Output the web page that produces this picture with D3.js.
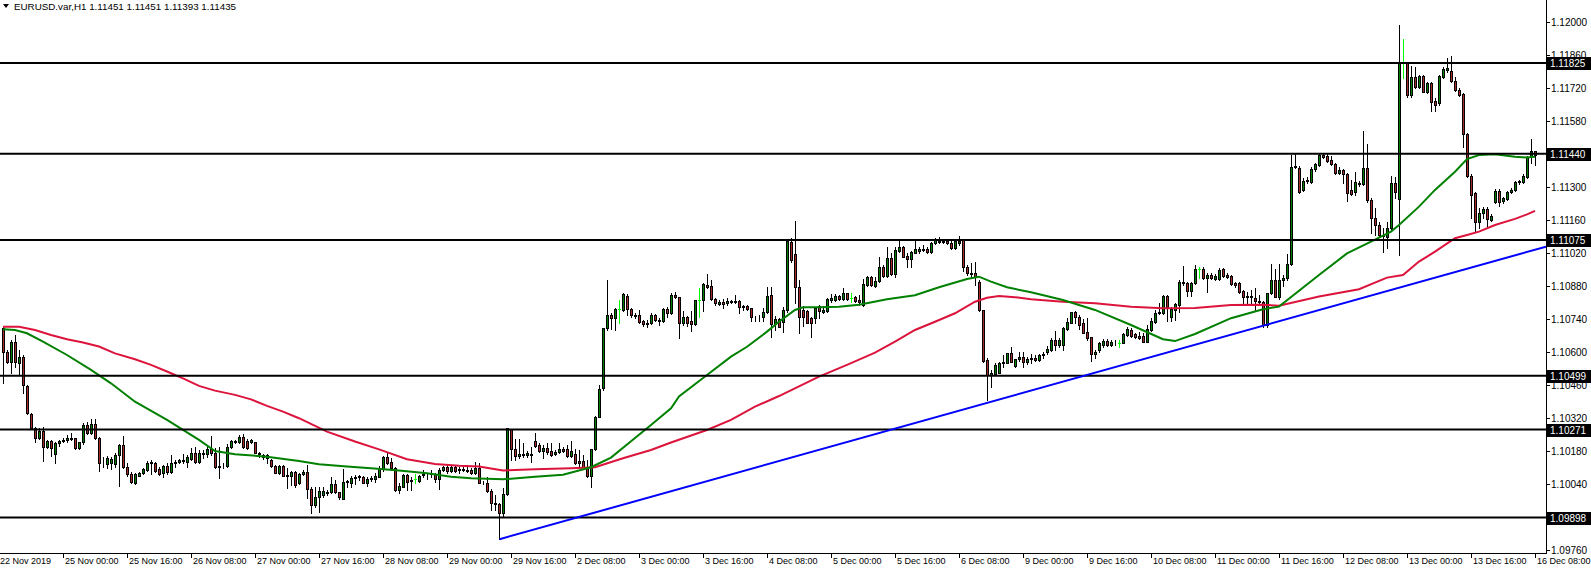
<!DOCTYPE html>
<html><head><meta charset="utf-8">
<script src="https://cdn.jsdelivr.net/npm/d3@7/dist/d3.min.js"></script>
<style>html,body{margin:0;padding:0;background:#fff;}svg{display:block;}</style>
</head><body>
<svg id="chart" width="1591" height="570"></svg>
<script>
// ---------------- DATA ----------------
const titleText = "EURUSD.var,H1  1.11451 1.11451 1.11393 1.11435";

// H1 bars, [open, high, low, close]; bar 0 = 22 Nov 2019 09:00 ... bar 383 = 16 Dec 08:00
const bars = [
[1.10700,1.10704,1.10467,1.10601],[1.10601,1.10608,1.10555,1.10559],[1.10559,1.10651,1.10510,1.10644],[1.10644,1.10672,1.10538,1.10559],
[1.10552,1.10608,1.10507,1.10577],[1.10577,1.10587,1.10425,1.10460],[1.10457,1.10460,1.10337,1.10340],[1.10337,1.10340,1.10272,1.10276],
[1.10276,1.10283,1.10216,1.10234],[1.10234,1.10276,1.10230,1.10266],[1.10265,1.10283,1.10139,1.10196],[1.10196,1.10227,1.10192,1.10224],
[1.10224,1.10227,1.10159,1.10192],[1.10166,1.10216,1.10128,1.10213],[1.10213,1.10227,1.10202,1.10221],[1.10221,1.10234,1.10220,1.10227],
[1.10227,1.10248,1.10220,1.10233],[1.10231,1.10255,1.10227,1.10237],[1.10234,1.10237,1.10187,1.10192],[1.10192,1.10220,1.10187,1.10216],
[1.10216,1.10298,1.10210,1.10289],[1.10289,1.10305,1.10252,1.10255],[1.10255,1.10315,1.10252,1.10293],[1.10293,1.10315,1.10230,1.10234],
[1.10234,1.10241,1.10097,1.10131],[1.10131,1.10156,1.10114,1.10128],[1.10125,1.10159,1.10107,1.10149],[1.10128,1.10156,1.10103,1.10148],
[1.10125,1.10170,1.10114,1.10162],[1.10163,1.10210,1.10032,1.10204],[1.10204,1.10244,1.10107,1.10111],[1.10111,1.10128,1.10072,1.10083],
[1.10083,1.10093,1.10046,1.10050],[1.10046,1.10086,1.10040,1.10083],[1.10074,1.10093,1.10072,1.10088],[1.10086,1.10107,1.10083,1.10103],
[1.10100,1.10136,1.10097,1.10131],[1.10128,1.10142,1.10083,1.10134],[1.10131,1.10134,1.10093,1.10097],[1.10103,1.10114,1.10079,1.10083],
[1.10086,1.10121,1.10069,1.10117],[1.10117,1.10128,1.10083,1.10093],[1.10093,1.10162,1.10088,1.10131],[1.10128,1.10142,1.10114,1.10134],
[1.10135,1.10148,1.10131,1.10142],[1.10142,1.10168,1.10131,1.10136],[1.10135,1.10163,1.10114,1.10156],[1.10145,1.10192,1.10142,1.10173],
[1.10173,1.10199,1.10131,1.10135],[1.10135,1.10185,1.10131,1.10170],[1.10170,1.10185,1.10149,1.10168],[1.10168,1.10199,1.10156,1.10187],
[1.10187,1.10244,1.10163,1.10173],[1.10173,1.10192,1.10107,1.10114],[1.10114,1.10199,1.10064,1.10117],[1.10117,1.10128,1.10107,1.10118],
[1.10117,1.10210,1.10114,1.10199],[1.10196,1.10227,1.10192,1.10223],[1.10218,1.10227,1.10213,1.10223],[1.10216,1.10248,1.10213,1.10241],
[1.10238,1.10250,1.10194,1.10199],[1.10224,1.10230,1.10187,1.10192],[1.10217,1.10230,1.10213,1.10227],[1.10216,1.10220,1.10170,1.10173],
[1.10173,1.10177,1.10153,1.10168],[1.10162,1.10168,1.10145,1.10156],[1.10162,1.10168,1.10131,1.10149],[1.10142,1.10145,1.10114,1.10118],
[1.10118,1.10121,1.10086,1.10088],[1.10088,1.10121,1.10083,1.10117],[1.10117,1.10120,1.10072,1.10074],[1.10079,1.10107,1.10022,1.10076],
[1.10074,1.10097,1.10036,1.10090],[1.10090,1.10096,1.10026,1.10036],[1.10043,1.10088,1.10040,1.10083],[1.10083,1.10100,1.10078,1.10093],
[1.10093,1.10121,1.09980,1.10018],[1.10018,1.10026,1.09919,1.09950],[1.09950,1.10026,1.09944,1.09985],[1.09984,1.10026,1.09923,1.10012],
[1.09994,1.10026,1.09987,1.10012],[1.10008,1.10015,1.09994,1.10001],[1.10004,1.10071,1.10001,1.10040],[1.10040,1.10057,1.10001,1.10004],
[1.10005,1.10008,1.09975,1.09987],[1.09978,1.10104,1.09975,1.10047],[1.10047,1.10057,1.10029,1.10053],[1.10043,1.10074,1.10029,1.10064],
[1.10064,1.10078,1.10039,1.10071],[1.10069,1.10078,1.10057,1.10073],[1.10071,1.10074,1.10043,1.10046],[1.10046,1.10069,1.10032,1.10062],
[1.10062,1.10074,1.10053,1.10067],[1.10062,1.10086,1.10050,1.10074],[1.10071,1.10117,1.10069,1.10104],[1.10104,1.10159,1.10097,1.10155],
[1.10155,1.10176,1.10125,1.10129],[1.10135,1.10149,1.10100,1.10107],[1.10107,1.10114,1.10011,1.10015],[1.10015,1.10043,1.10001,1.10032],
[1.10029,1.10083,1.10026,1.10077],[1.10077,1.10083,1.10015,1.10049],[1.10053,1.10069,1.10015,1.10057],[1.10062,1.10083,1.10043,1.10062],
[1.10053,1.10078,1.10050,1.10074],[1.10077,1.10100,1.10069,1.10083],[1.10081,1.10088,1.10060,1.10084],[1.10083,1.10100,1.10069,1.10086],
[1.10083,1.10088,1.10050,1.10062],[1.10062,1.10107,1.10018,1.10100],[1.10100,1.10117,1.10097,1.10112],[1.10112,1.10121,1.10088,1.10095],
[1.10095,1.10121,1.10091,1.10112],[1.10112,1.10121,1.10093,1.10097],[1.10100,1.10114,1.10086,1.10104],[1.10104,1.10110,1.10095,1.10100],
[1.10097,1.10114,1.10091,1.10101],[1.10101,1.10107,1.10083,1.10087],[1.10086,1.10134,1.10083,1.10108],[1.10107,1.10131,1.10044,1.10046],
[1.10046,1.10053,1.10040,1.10043],[1.10046,1.10071,1.10004,1.10011],[1.10011,1.10020,1.09930,1.09958],[1.09961,1.09994,1.09930,1.09956],
[1.09954,1.09958,1.09806,1.09919],[1.09919,1.10022,1.09902,1.09997],[1.09997,1.10276,1.09994,1.10276],[1.10272,1.10272,1.10142,1.10187],
[1.10187,1.10230,1.10142,1.10159],[1.10159,1.10230,1.10149,1.10168],[1.10168,1.10213,1.10153,1.10162],[1.10163,1.10180,1.10156,1.10173],
[1.10168,1.10199,1.10135,1.10163],[1.10223,1.10258,1.10199,1.10201],[1.10206,1.10213,1.10177,1.10180],[1.10180,1.10206,1.10149,1.10192],
[1.10192,1.10213,1.10168,1.10177],[1.10180,1.10213,1.10159,1.10163],[1.10168,1.10185,1.10163,1.10177],[1.10176,1.10213,1.10173,1.10187],
[1.10187,1.10199,1.10176,1.10182],[1.10187,1.10206,1.10156,1.10160],[1.10160,1.10223,1.10156,1.10180],[1.10168,1.10187,1.10125,1.10128],
[1.10138,1.10185,1.10114,1.10131],[1.10138,1.10163,1.10111,1.10114],[1.10114,1.10142,1.10071,1.10074],[1.10074,1.10187,1.10026,1.10187],
[1.10187,1.10329,1.10185,1.10326],[1.10323,1.10460,1.10323,1.10442],[1.10445,1.10700,1.10440,1.10700],[1.10700,1.10905,1.10693,1.10757],
[1.10757,1.10764,1.10696,1.10745],[1.10745,1.10788,1.10693,1.10781],[1.10781,1.10820,1.10721,1.10781],[1.10778,1.10849,1.10775,1.10844],
[1.10839,1.10844,1.10757,1.10781],[1.10781,1.10785,1.10750,1.10757],[1.10757,1.10764,1.10743,1.10754],[1.10757,1.10778,1.10724,1.10728],
[1.10731,1.10736,1.10710,1.10717],[1.10719,1.10736,1.10707,1.10724],[1.10721,1.10764,1.10719,1.10755],[1.10755,1.10760,1.10733,1.10736],
[1.10736,1.10743,1.10714,1.10730],[1.10730,1.10785,1.10727,1.10781],[1.10781,1.10792,1.10750,1.10764],[1.10764,1.10851,1.10760,1.10842],
[1.10842,1.10856,1.10827,1.10832],[1.10832,1.10834,1.10658,1.10724],[1.10724,1.10775,1.10714,1.10747],[1.10747,1.10752,1.10710,1.10724],
[1.10731,1.10774,1.10689,1.10719],[1.10719,1.10820,1.10714,1.10820],[1.10820,1.10870,1.10750,1.10820],[1.10820,1.10891,1.10775,1.10887],
[1.10884,1.10929,1.10870,1.10877],[1.10880,1.10905,1.10820,1.10823],[1.10823,1.10827,1.10799,1.10806],[1.10803,1.10820,1.10799,1.10810],
[1.10810,1.10823,1.10785,1.10803],[1.10809,1.10827,1.10799,1.10817],[1.10813,1.10820,1.10806,1.10816],[1.10816,1.10842,1.10806,1.10810],
[1.10816,1.10820,1.10764,1.10789],[1.10789,1.10799,1.10778,1.10795],[1.10795,1.10799,1.10778,1.10782],[1.10785,1.10788,1.10731,1.10750],
[1.10750,1.10754,1.10733,1.10747],[1.10747,1.10757,1.10733,1.10750],[1.10750,1.10785,1.10733,1.10771],[1.10771,1.10877,1.10767,1.10837],
[1.10842,1.10877,1.10662,1.10719],[1.10719,1.10752,1.10693,1.10738],[1.10738,1.10743,1.10704,1.10707],[1.10728,1.10792,1.10686,1.10778],
[1.10778,1.11075,1.10771,1.11072],[1.11068,1.11082,1.10983,1.10990],[1.11015,1.11157,1.10806,1.10874],[1.10874,1.10905,1.10679,1.10747],
[1.10778,1.10795,1.10710,1.10747],[1.10774,1.10778,1.10721,1.10724],[1.10743,1.10750,1.10665,1.10724],[1.10743,1.10792,1.10721,1.10785],
[1.10795,1.10799,1.10743,1.10774],[1.10771,1.10795,1.10764,1.10778],[1.10774,1.10830,1.10769,1.10825],[1.10820,1.10846,1.10813,1.10827],
[1.10820,1.10846,1.10817,1.10837],[1.10837,1.10842,1.10820,1.10823],[1.10823,1.10870,1.10820,1.10849],[1.10849,1.10851,1.10820,1.10826],
[1.10827,1.10849,1.10813,1.10827],[1.10832,1.10837,1.10813,1.10816],[1.10820,1.10842,1.10799,1.10810],[1.10799,1.10908,1.10795,1.10888],
[1.10884,1.10922,1.10880,1.10916],[1.10916,1.10922,1.10880,1.10884],[1.10880,1.10919,1.10874,1.10901],[1.10901,1.11004,1.10898,1.10959],
[1.10959,1.10969,1.10916,1.10922],[1.10922,1.11046,1.10916,1.10997],[1.10997,1.11018,1.10926,1.10931],[1.10931,1.11046,1.10916,1.11032],
[1.11029,1.11072,1.11025,1.11046],[1.11044,1.11049,1.11001,1.11004],[1.11007,1.11018,1.10962,1.10995],[1.10995,1.11029,1.10962,1.11025],
[1.11021,1.11072,1.11018,1.11035],[1.11029,1.11046,1.11018,1.11035],[1.11035,1.11053,1.11029,1.11032],[1.11035,1.11046,1.11021,1.11025],
[1.11025,1.11068,1.11021,1.11063],[1.11060,1.11082,1.11058,1.11075],[1.11072,1.11086,1.11063,1.11068],[1.11066,1.11077,1.11060,1.11072],
[1.11069,1.11080,1.11058,1.11063],[1.11063,1.11072,1.11035,1.11039],[1.11039,1.11077,1.11035,1.11072],[1.11063,1.11092,1.11053,1.11072],
[1.11075,1.11077,1.10945,1.10959],[1.10962,1.10969,1.10926,1.10933],[1.10936,1.10976,1.10919,1.10931],[1.10933,1.10983,1.10884,1.10916],
[1.10898,1.10905,1.10775,1.10778],[1.10778,1.10778,1.10559,1.10563],[1.10566,1.10573,1.10396,1.10502],[1.10502,1.10524,1.10453,1.10512],
[1.10507,1.10552,1.10502,1.10545],[1.10512,1.10559,1.10509,1.10555],[1.10552,1.10587,1.10538,1.10559],[1.10555,1.10597,1.10552,1.10594],
[1.10597,1.10622,1.10556,1.10559],[1.10542,1.10572,1.10538,1.10569],[1.10569,1.10601,1.10563,1.10580],[1.10580,1.10601,1.10538,1.10559],
[1.10559,1.10580,1.10549,1.10569],[1.10569,1.10590,1.10555,1.10575],[1.10575,1.10585,1.10560,1.10565],[1.10565,1.10590,1.10560,1.10585],
[1.10585,1.10600,1.10575,1.10592],[1.10600,1.10625,1.10590,1.10612],[1.10608,1.10658,1.10605,1.10651],[1.10651,1.10690,1.10608,1.10630],
[1.10630,1.10658,1.10623,1.10651],[1.10630,1.10707,1.10608,1.10700],[1.10697,1.10743,1.10693,1.10729],[1.10724,1.10771,1.10721,1.10771],
[1.10771,1.10775,1.10724,1.10746],[1.10747,1.10757,1.10696,1.10714],[1.10721,1.10738,1.10679,1.10682],[1.10686,1.10743,1.10651,1.10658],
[1.10662,1.10665,1.10560,1.10590],[1.10590,1.10610,1.10575,1.10600],[1.10608,1.10641,1.10601,1.10637],[1.10630,1.10654,1.10623,1.10648],
[1.10645,1.10654,1.10625,1.10630],[1.10630,1.10651,1.10625,1.10642],[1.10641,1.10651,1.10630,1.10644],[1.10639,1.10651,1.10623,1.10639],
[1.10639,1.10679,1.10637,1.10676],[1.10672,1.10707,1.10669,1.10697],[1.10693,1.10700,1.10665,1.10668],[1.10675,1.10682,1.10658,1.10662],
[1.10669,1.10686,1.10654,1.10658],[1.10668,1.10679,1.10641,1.10644],[1.10644,1.10714,1.10641,1.10696],[1.10693,1.10743,1.10690,1.10733],
[1.10729,1.10778,1.10721,1.10767],[1.10764,1.10806,1.10761,1.10771],[1.10764,1.10842,1.10761,1.10837],[1.10837,1.10842,1.10733,1.10792],
[1.10750,1.10792,1.10733,1.10782],[1.10778,1.10809,1.10736,1.10803],[1.10799,1.10905,1.10771,1.10898],[1.10891,1.10964,1.10884,1.10898],
[1.10894,1.10898,1.10837,1.10860],[1.10860,1.10898,1.10837,1.10894],[1.10894,1.10969,1.10888,1.10950],[1.10950,1.10962,1.10912,1.10950],
[1.10950,1.10959,1.10908,1.10912],[1.10912,1.10933,1.10856,1.10926],[1.10926,1.10933,1.10908,1.10912],[1.10909,1.10930,1.10905,1.10923],
[1.10909,1.10955,1.10905,1.10947],[1.10950,1.10955,1.10919,1.10923],[1.10926,1.10933,1.10912,1.10919],[1.10922,1.10926,1.10884,1.10888],
[1.10894,1.10898,1.10877,1.10885],[1.10894,1.10898,1.10851,1.10856],[1.10858,1.10863,1.10806,1.10834],[1.10834,1.10856,1.10803,1.10839],
[1.10839,1.10863,1.10803,1.10834],[1.10830,1.10870,1.10778,1.10816],[1.10816,1.10842,1.10799,1.10810],[1.10813,1.10818,1.10707,1.10714],
[1.10714,1.10851,1.10707,1.10849],[1.10849,1.10973,1.10846,1.10905],[1.10905,1.10950,1.10832,1.10834],[1.10834,1.10973,1.10825,1.10905],
[1.10905,1.10925,1.10880,1.10915],[1.10915,1.11014,1.10905,1.10971],[1.10971,1.11435,1.10968,1.11386],[1.11386,1.11438,1.11378,1.11390],
[1.11381,1.11390,1.11272,1.11280],[1.11287,1.11336,1.11282,1.11325],[1.11325,1.11343,1.11315,1.11329],[1.11322,1.11386,1.11315,1.11376],
[1.11374,1.11400,1.11368,1.11395],[1.11393,1.11438,1.11390,1.11435],[1.11435,1.11442,1.11424,1.11428],[1.11432,1.11438,1.11407,1.11411],
[1.11414,1.11432,1.11393,1.11395],[1.11395,1.11400,1.11353,1.11357],[1.11357,1.11386,1.11353,1.11371],[1.11371,1.11376,1.11315,1.11353],
[1.11353,1.11357,1.11241,1.11272],[1.11287,1.11329,1.11265,1.11270],[1.11280,1.11361,1.11265,1.11319],[1.11312,1.11325,1.11305,1.11315],
[1.11311,1.11537,1.11308,1.11378],[1.11381,1.11480,1.11237,1.11244],[1.11244,1.11251,1.11103,1.11166],[1.11169,1.11209,1.11096,1.11138],
[1.11138,1.11152,1.11089,1.11096],[1.11096,1.11124,1.11025,1.11093],[1.11089,1.11152,1.11039,1.11124],[1.11124,1.11346,1.11117,1.11315],
[1.11315,1.11343,1.11251,1.11280],[1.11247,1.11986,1.11011,1.11824],[1.11824,1.11927,1.11760,1.11824],[1.11824,1.11824,1.11682,1.11689],
[1.11689,1.11814,1.11682,1.11767],[1.11767,1.11809,1.11718,1.11725],[1.11725,1.11774,1.11718,1.11770],[1.11770,1.11774,1.11701,1.11703],
[1.11703,1.11746,1.11696,1.11739],[1.11739,1.11746,1.11621,1.11661],[1.11664,1.11675,1.11621,1.11647],[1.11654,1.11774,1.11647,1.11770],
[1.11767,1.11809,1.11760,1.11800],[1.11795,1.11848,1.11788,1.11802],[1.11791,1.11856,1.11746,1.11749],[1.11749,1.11767,1.11706,1.11710],
[1.11710,1.11720,1.11686,1.11689],[1.11692,1.11696,1.11470,1.11523],[1.11523,1.11527,1.11343,1.11347],[1.11347,1.11353,1.11166,1.11265],
[1.11272,1.11280,1.11113,1.11150],[1.11150,1.11212,1.11124,1.11188],[1.11188,1.11216,1.11166,1.11206],[1.11206,1.11216,1.11124,1.11164],
[1.11161,1.11183,1.11155,1.11176],[1.11234,1.11291,1.11230,1.11282],[1.11282,1.11291,1.11220,1.11237],[1.11240,1.11258,1.11230,1.11254],
[1.11248,1.11282,1.11244,1.11277],[1.11277,1.11294,1.11272,1.11287],[1.11287,1.11325,1.11282,1.11319],[1.11319,1.11329,1.11311,1.11325],
[1.11322,1.11353,1.11315,1.11347],[1.11343,1.11432,1.11339,1.11428],[1.11428,1.11503,1.11400,1.11451],[1.11451,1.11451,1.11393,1.11435]
];

// Moving averages: [bar index, value]
const maGreen = [[0,1.10696],[3,1.10693],[6,1.10679],[10,1.10644],[16,1.10587],[22,1.10524],[27,1.10467],[33,1.10389],[41,1.10312],[49,1.10227],
[53,1.10180],[58,1.10166],[66,1.10156],[74,1.10138],[79,1.10124],[86,1.10114],[92,1.10107],[99,1.10097],[106,1.10086],[112,1.10071],[117,1.10064],
[125,1.10060],[133,1.10071],[140,1.10079],[147,1.10111],[152,1.10152],[158,1.10235],[162,1.10290],[167,1.10361],[169,1.10411],[176,1.10502],
[182,1.10580],[186,1.10622],[191,1.10686],[194,1.10728],[198,1.10778],[200,1.10789],[204,1.10789],[209,1.10792],[214,1.10800],[221,1.10823],
[228,1.10840],[234,1.10874],[241,1.10909],[244,1.10919],[247,1.10898],[251,1.10874],[257,1.10853],[265,1.10820],[273,1.10778],[282,1.10714],
[290,1.10654],[293,1.10646],[298,1.10676],[307,1.10743],[315,1.10781],[319,1.10792],[329,1.10926],[336,1.11018],[342,1.11068],[347,1.11110],
[349,1.11138],[354,1.11216],[358,1.11287],[363,1.11364],[366,1.11418],[369,1.11435],[373,1.11438],[378,1.11428],[381,1.11424],[383,1.11428]];

const maRed = [[0,1.10707],[4,1.10707],[8,1.10693],[12,1.10672],[16,1.10654],[20,1.10640],[24,1.10623],[28,1.10594],[33,1.10569],[37,1.10545],
[41,1.10517],[45,1.10488],[49,1.10456],[53,1.10436],[58,1.10418],[62,1.10399],[66,1.10371],[70,1.10347],[74,1.10319],[81,1.10262],[88,1.10220],
[94,1.10187],[101,1.10145],[108,1.10125],[114,1.10117],[119,1.10114],[125,1.10097],[133,1.10103],[142,1.10107],[148,1.10111],[155,1.10149],
[162,1.10184],[167,1.10216],[176,1.10269],[182,1.10312],[188,1.10368],[194,1.10413],[204,1.10495],[211,1.10545],[218,1.10597],[223,1.10644],
[228,1.10693],[233,1.10728],[238,1.10764],[243,1.10813],[246,1.10830],[249,1.10837],[253,1.10832],[257,1.10823],[265,1.10813],[273,1.10806],
[282,1.10792],[290,1.10785],[298,1.10786],[307,1.10799],[315,1.10800],[319,1.10796],[329,1.10835],[339,1.10866],[346,1.10915],[350,1.10926],
[354,1.10983],[358,1.11025],[363,1.11082],[366,1.11096],[369,1.11110],[373,1.11138],[378,1.11164],[381,1.11183],[383,1.11198]];

// horizontal levels
const levels = [1.11825, 1.11440, 1.11075, 1.10499, 1.10271, 1.09898];
// trend line anchors [bar, price]
const trendAnchors = [[124, 1.09806], [315, 1.10711]];

// price axis ticks
const priceTicks = [1.12000,1.11860,1.11720,1.11580,1.11440,1.11300,1.11160,1.11020,1.10880,1.10740,1.10600,1.10460,1.10320,1.10180,1.10040,1.09900,1.09760];
// time axis ticks
const timeTickBars = [15,31,47,63,79,95,111,127,143,159,175,191,207,223,239,255,271,287,303,319,335,351,367,383];
const timeTickLabels = ["25 Nov 00:00","25 Nov 16:00","26 Nov 08:00","27 Nov 00:00","27 Nov 16:00","28 Nov 08:00","29 Nov 00:00","29 Nov 16:00",
"2 Dec 08:00","3 Dec 00:00","3 Dec 16:00","4 Dec 08:00","5 Dec 00:00","5 Dec 16:00","6 Dec 08:00","9 Dec 00:00","9 Dec 16:00","10 Dec 08:00",
"11 Dec 00:00","11 Dec 16:00","12 Dec 08:00","13 Dec 00:00","13 Dec 16:00","16 Dec 08:00"];
const firstDateLabel = "22 Nov 2019";

// ---------------- DRAW ----------------
const plotRight = 1546, plotBottom = 553;
const svg = d3.select("#chart");
const x = d3.scaleLinear().domain([0, 383]).range([3, 1535]);
const y = d3.scaleLinear().domain([1.09898, 1.11825]).range([517.5, 63]);
const FONT = "'Liberation Sans', Arial, sans-serif";
const BULL = "#008000", BEAR = "#a52a2a", DOJI = "#00ff00";

svg.append("defs").append("clipPath").attr("id","plotClip")
  .append("rect").attr("x",0).attr("y",0).attr("width",plotRight).attr("height",plotBottom);

const plot = svg.append("g").attr("clip-path","url(#plotClip)");

// candles
const cg = plot.append("g").attr("shape-rendering","crispEdges");
bars.forEach((b,i) => {
  const [o,h,l,c] = b;
  const cx = Math.round(x(i));
  const isDoji = Math.abs(o - c) < 1e-9;
  const yh = Math.round(y(Math.max(h,o,c))), yl = Math.round(y(Math.min(l,o,c)));
  cg.append("line").attr("x1",cx+0.5).attr("x2",cx+0.5).attr("y1",yh).attr("y2",yl+1)
    .attr("stroke", isDoji ? DOJI : "#000").attr("stroke-width",1);
  const top = Math.round(y(Math.max(o,c))), bot = Math.round(y(Math.min(o,c)));
  if (isDoji) {
    cg.append("line").attr("x1",cx-1).attr("x2",cx+2).attr("y1",top+0.5).attr("y2",top+0.5)
      .attr("stroke",DOJI).attr("stroke-width",1);
  } else {
    cg.append("rect").attr("x",cx-0.5).attr("y",top+0.5).attr("width",2).attr("height",Math.max(bot-top,0))
      .attr("fill", c > o ? BULL : BEAR).attr("stroke","#000").attr("stroke-width",1);
  }
});

// moving averages
const line = d3.line().x(d => x(d[0])).y(d => y(d[1]));
plot.append("path").datum(maRed).attr("d",line).attr("fill","none").attr("stroke","#dc143c").attr("stroke-width",2);
plot.append("path").datum(maGreen).attr("d",line).attr("fill","none").attr("stroke","#008000").attr("stroke-width",2);

// horizontal levels
plot.selectAll(".lvl").data(levels).enter().append("line")
  .attr("x1",0).attr("x2",plotRight).attr("y1",d=>y(d)).attr("y2",d=>y(d))
  .attr("stroke","#000").attr("stroke-width",2);

// trend line (ray extended to right edge)
const [a1,a2] = trendAnchors;
const slope = (a2[1]-a1[1])/(a2[0]-a1[0]);
const endBar = x.invert(plotRight);
plot.append("line")
  .attr("x1",x(a1[0])+0.5).attr("y1",y(a1[1]))
  .attr("x2",x(endBar)).attr("y2",y(a1[1] + slope*(endBar - a1[0])))
  .attr("stroke","#0000ff").attr("stroke-width",2);

// axes lines
svg.append("line").attr("x1",plotRight+0.5).attr("x2",plotRight+0.5).attr("y1",0).attr("y2",plotBottom+1)
  .attr("stroke","#000").attr("shape-rendering","crispEdges");
svg.append("line").attr("x1",0).attr("x2",plotRight+1).attr("y1",plotBottom+0.5).attr("y2",plotBottom+0.5)
  .attr("stroke","#000").attr("shape-rendering","crispEdges");

// price ticks
const pa = svg.append("g");
priceTicks.forEach(p => {
  const yy = Math.round(y(p));
  pa.append("line").attr("x1",plotRight).attr("x2",plotRight+4).attr("y1",yy+0.5).attr("y2",yy+0.5)
    .attr("stroke","#000").attr("shape-rendering","crispEdges");
  pa.append("text").attr("x",plotRight+5).attr("y",yy+0.5).attr("dy","0.35em")
    .attr("font-family",FONT).attr("font-size","10px").attr("fill","#000").text(p.toFixed(5));
});
// level labels
levels.forEach(p => {
  const yy = y(p);
  pa.append("rect").attr("x",plotRight+1).attr("y",Math.round(yy)-6).attr("width",45).attr("height",13).attr("fill","#000");
  pa.append("text").attr("x",plotRight+4).attr("y",Math.round(yy)+0.5).attr("dy","0.35em")
    .attr("font-family",FONT).attr("font-size","10px").attr("fill","#fff").text(p.toFixed(5));
});

// time ticks
const ta = svg.append("g");
timeTickBars.forEach((b,k) => {
  const xx = Math.round(x(b));
  ta.append("line").attr("x1",xx+0.5).attr("x2",xx+0.5).attr("y1",plotBottom).attr("y2",plotBottom+5)
    .attr("stroke","#000").attr("shape-rendering","crispEdges");
  ta.append("text").attr("x",xx+2).attr("y",564).attr("font-family",FONT).attr("font-size","9px")
    .attr("fill","#000").text(timeTickLabels[k]);
});
ta.append("text").attr("x",0).attr("y",564).attr("font-family",FONT).attr("font-size","9px").attr("fill","#000").text(firstDateLabel);

// title
svg.append("path").attr("d","M3,4 L9,4 L6,8 Z").attr("fill","#000");
svg.append("text").attr("x",14).attr("y",10).attr("font-family",FONT).attr("font-size","9.8px").attr("fill","#000").text(titleText);
</script>
</body></html>
